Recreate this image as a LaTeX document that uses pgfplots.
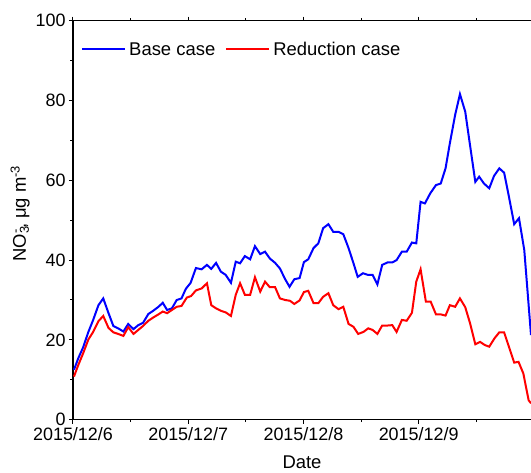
\documentclass[border=0pt]{standalone}
\usepackage{pgfplots}
\pgfplotsset{compat=1.18}
\usepackage{fontspec}
\setmainfont{Liberation Sans}
\usetikzlibrary{calc}

\begin{document}
\begin{tikzpicture}
\begin{axis}[
  scale only axis,
  width=458bp, height=399bp,
  xmin=0, xmax=95.4, ymin=0, ymax=100,
  axis x line*=box, axis y line*=left,
  tick align=outside,
  xtick={0,24,48,72},
  xticklabels={2015/12/6,2015/12/7,2015/12/8,2015/12/9},
  minor xtick={12,36,60,84},
  ytick={0,20,40,60,80,100},
  minor ytick={10,30,50,70,90},
  major tick length=4bp, minor tick length=2.5bp,
  every tick/.style={black, line width=1bp},
  axis line style={line width=1.3bp},
  tick label style={font=\fontsize{18}{21}\selectfont},
  /pgf/number format/assume math mode=true,
  xlabel={Date},
  ylabel={NO\rlap{\textsubscript{3}}\textsuperscript{-}, μg m\textsuperscript{-3}},
  label style={font=\fontsize{18.5}{21}\selectfont},
  xlabel style={yshift=-9bp},
  ylabel style={at={(ticklabel cs:0.517)}, yshift=-1bp},
  legend style={draw=none, fill=none, at={(0.011,0.957)}, anchor=north west,
    font=\fontsize{18.5}{21}\selectfont, legend columns=2,
    /tikz/every even column/.append style={column sep=8bp},
    /tikz/every odd column/.append style={column sep=1bp}},
  legend image code/.code={\draw[#1] (0bp,0bp) -- (43bp,0bp);},
]
\addplot[blue, line width=2bp] table {
0.2 12.5
1.1 15.4
2.1 18.1
3.2 22
4.2 25
5.3 28.7
6.3 30.4
7.4 26.7
8.4 23.5
9.4 22.9
10.5 22.1
11.5 24
12.6 22.7
13.6 23.7
14.6 24.3
15.7 26.5
16.7 27.3
17.8 28.3
18.7 29.3
19.6 27.5
20.6 27.9
21.6 30
22.6 30.4
23.5 32.8
24.5 34.3
25.6 38
26.8 37.7
27.9 38.8
28.8 37.8
29.8 39.3
30.8 37.1
31.8 36.3
32.9 34.3
33.9 39.6
34.8 39.2
35.8 41
36.9 40.2
37.9 43.5
39.0 41.5
40.0 42.1
41.0 40.4
42.1 39.3
43.1 37.9
44.2 35.2
45.1 33.3
46.1 35.2
47.2 35.5
48.1 39.5
49.0 40.2
50.1 43
51.1 44.2
52.1 48
53.2 49
54.2 47.1
55.3 47.1
56.3 46.5
57.4 43
58.4 39.3
59.3 35.8
60.4 36.7
61.4 36.3
62.4 36.3
63.4 33.9
64.4 38.8
65.5 39.4
66.5 39.4
67.4 40
68.5 42.1
69.5 42.1
70.6 44.4
71.5 44.2
72.4 54.6
73.3 54.2
74.4 56.7
75.6 58.8
76.6 59.2
77.6 63
78.5 69.3
79.6 76.4
80.6 81.6
81.7 77.2
82.7 68.8
83.8 59.6
84.6 60.9
85.6 59.2
86.7 58
87.7 61.1
88.8 63
89.8 61.9
90.8 55.9
91.9 49
92.9 50.5
94.0 42.5
95.4 21.2
};
\addlegendentry{Base case}
\addplot[red, line width=2bp] table {
0.2 10.8
1.1 13.7
2.1 16.6
3.2 20.1
4.2 22
5.3 24.7
6.3 26
7.4 23
8.4 21.9
9.4 21.5
10.5 21
11.5 23.2
12.6 21.5
13.6 22.5
14.6 23.5
15.7 24.8
16.7 25.6
17.8 26.4
18.7 27.1
19.6 26.7
20.6 27.5
21.6 28.3
22.6 28.5
23.7 30.6
24.6 31
25.6 32.4
26.8 32.9
27.9 34.2
28.8 28.7
29.8 27.9
30.8 27.3
31.8 26.9
32.9 26
33.9 31.3
34.8 34.2
35.8 31.3
36.9 31.3
37.9 35.7
39.0 32.1
40.0 34.6
41.0 33.2
42.1 33.2
43.1 30.4
44.2 30
45.2 29.8
46.1 29
47.2 29.9
48.1 32
49.0 32.3
50.1 29.2
51.1 29.2
52.1 30.8
53.2 31.7
54.2 28.7
55.3 27.7
56.3 28.3
57.4 24
58.4 23.3
59.4 21.5
60.5 22
61.5 22.9
62.4 22.5
63.4 21.5
64.4 23.6
65.5 23.6
66.5 23.7
67.4 22
68.5 25
69.5 24.8
70.6 26.8
71.5 34.6
72.4 37.7
73.5 29.6
74.5 29.6
75.6 26.4
76.6 26.4
77.6 26.1
78.5 28.7
79.6 28.3
80.6 30.4
81.7 28.2
82.7 24.2
83.8 18.9
84.8 19.5
85.8 18.7
86.7 18.3
87.8 20.4
88.8 21.9
89.8 21.9
90.8 18.3
91.9 14.3
92.8 14.5
93.8 11.6
94.9 4.9
95.4 4.1
};
\addlegendentry{Reduction case}
\coordinate (sw) at (rel axis cs:0,0);
\coordinate (ne) at (rel axis cs:1,1);
\end{axis}
\pgfresetboundingbox
\useasboundingbox ($(sw)+(-73bp,-53.3bp)$) rectangle ($(ne)+(0bp,20.7bp)$);
\end{tikzpicture}
\end{document}
